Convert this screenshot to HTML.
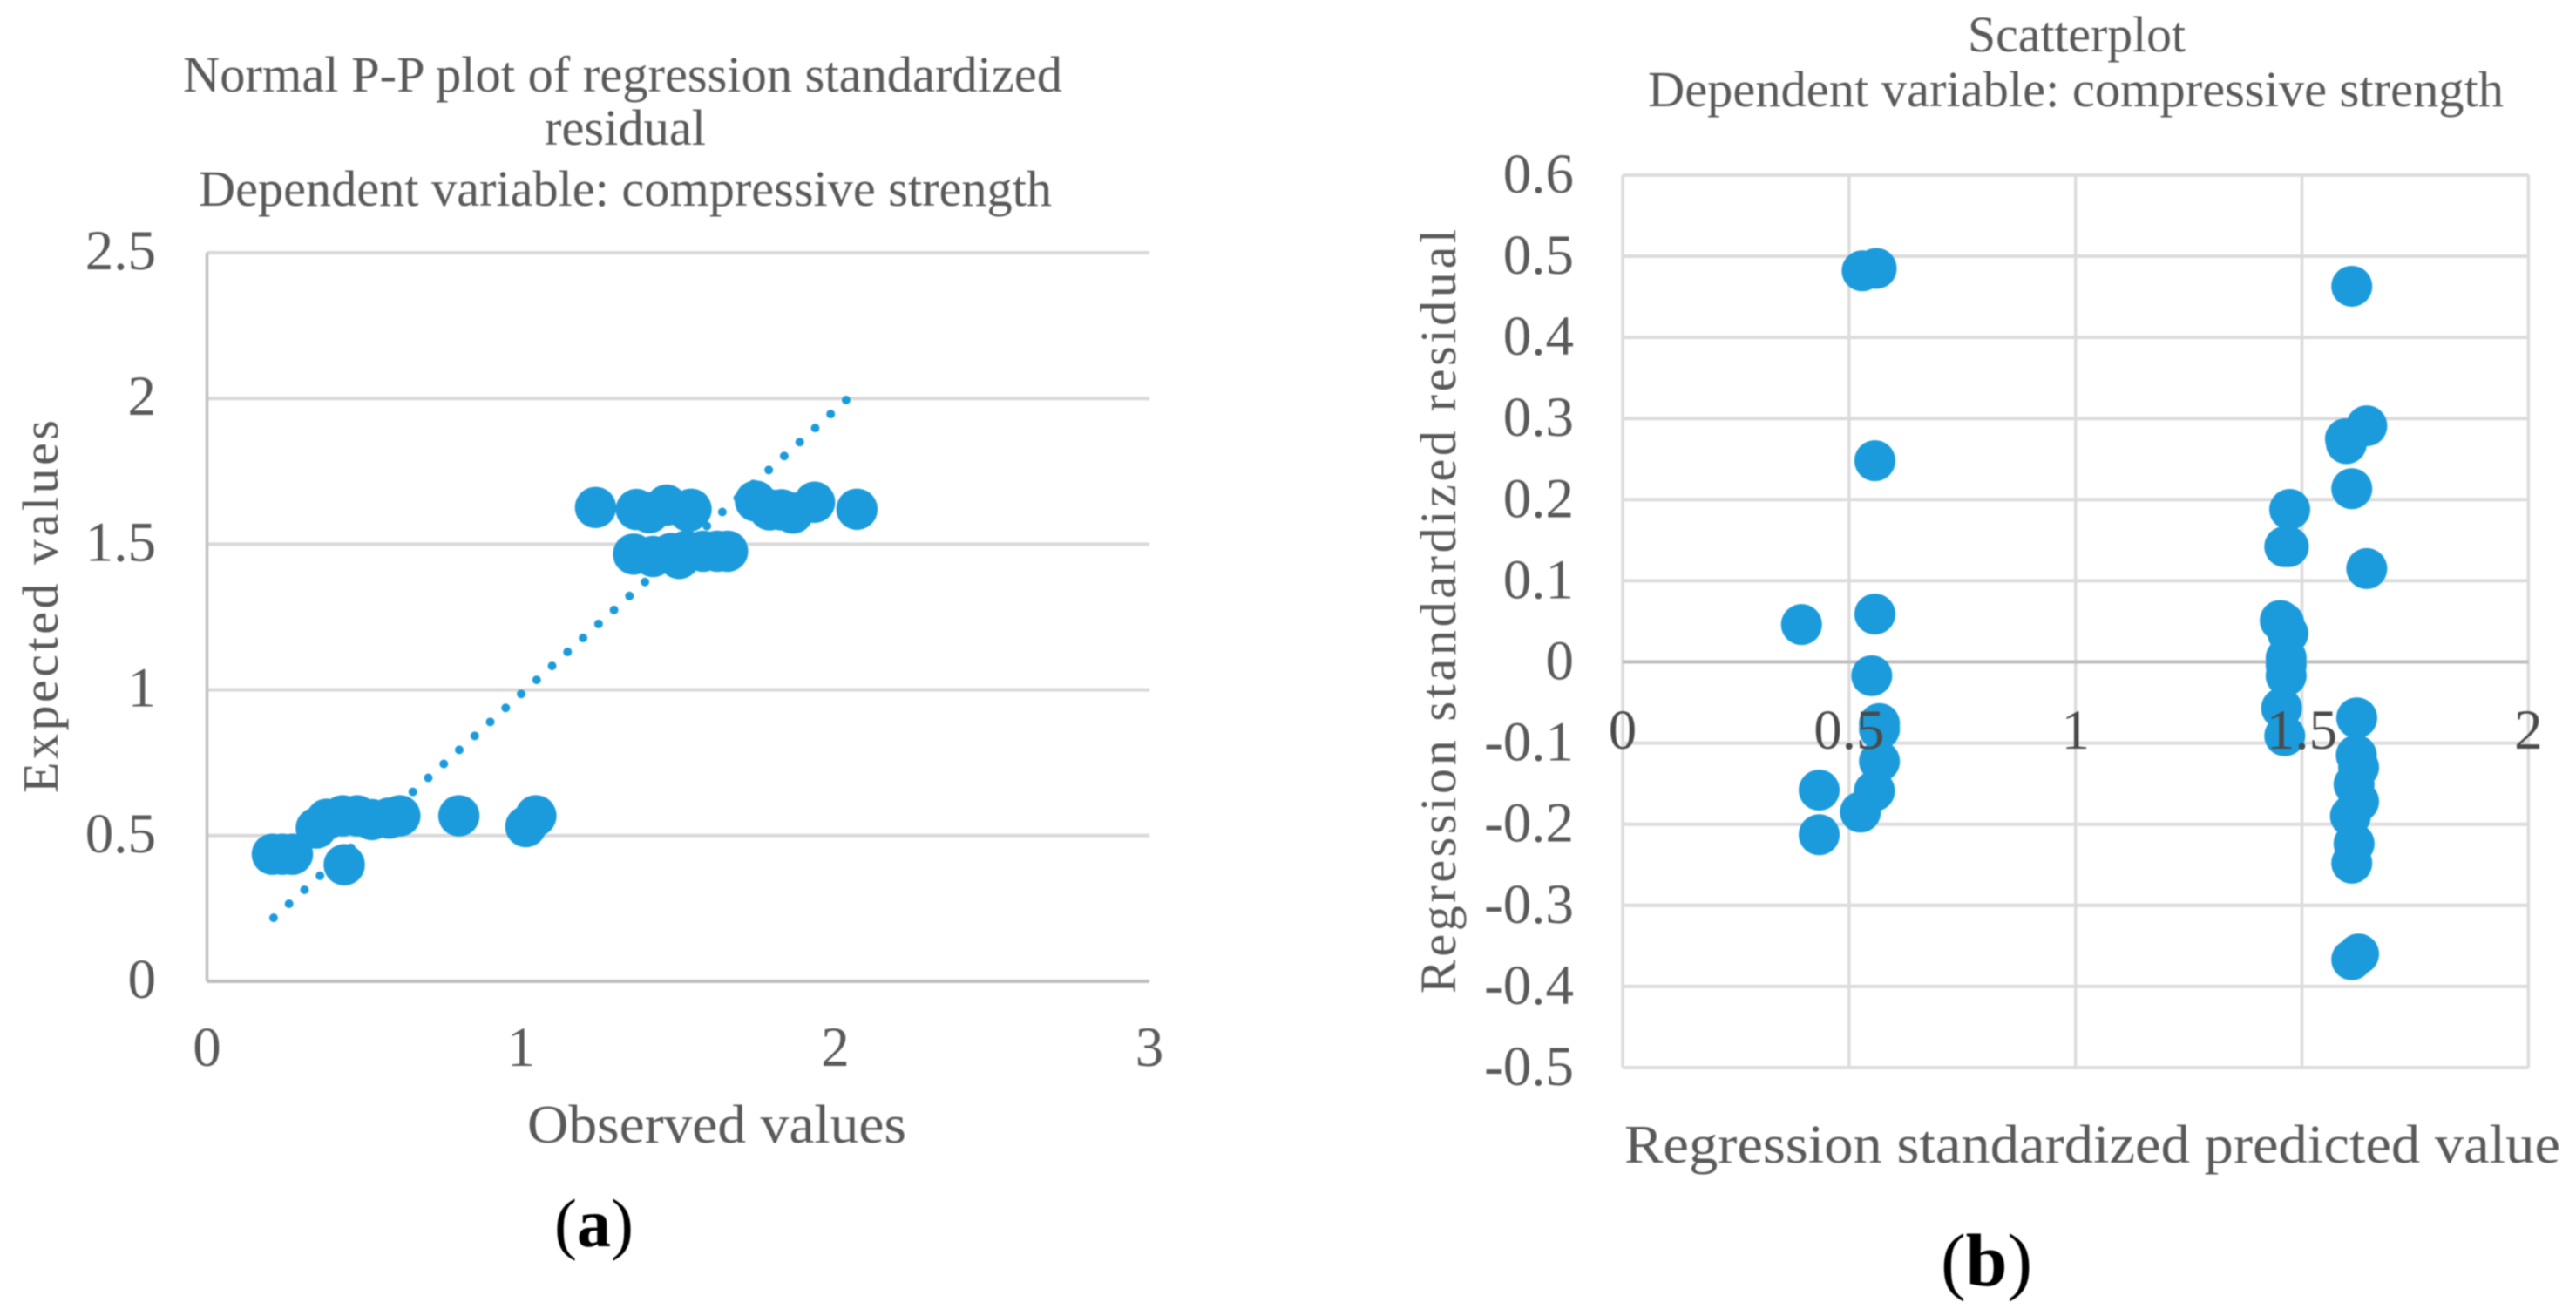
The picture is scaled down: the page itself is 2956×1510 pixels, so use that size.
<!DOCTYPE html>
<html lang="en">
<head>
<meta charset="utf-8">
<title>Normal P-P plot and scatterplot of regression residuals</title>
<style>
html,body{margin:0;padding:0;background:#fff;}
svg{display:block;filter:blur(0.9px);}
text{font-family:"Liberation Serif","Times New Roman",serif;fill:#595959;}
.title{font-size:58px;}
.axis-title{font-size:62px;}
.axis-title-rot{font-size:58px;}
.tick{font-size:65px;}
.tick-dark{font-size:65px;fill:#4a4a4a;}
.panel{font-size:78px;fill:#000;}
</style>
</head>
<body>
<svg id="figure" xmlns="http://www.w3.org/2000/svg" width="2956" height="1510" viewBox="0 0 2956 1510">
  <g id="panel-a">
    <g id="a-grid"></g>
    <g id="a-marks"></g>
    <g id="a-ticks"></g>
    <g>
      <text class="title" x="210" y="105" textLength="1009" lengthAdjust="spacingAndGlyphs">Normal P-P plot of regression standardized</text>
      <text class="title" x="625" y="166" textLength="185" lengthAdjust="spacingAndGlyphs">residual</text>
      <text class="title" x="228" y="236" textLength="979" lengthAdjust="spacingAndGlyphs">Dependent variable: compressive strength</text>
    </g>
    <text class="axis-title" x="605" y="1311" textLength="435" lengthAdjust="spacingAndGlyphs">Observed values</text>
    <text class="axis-title-rot" transform="translate(66,910) rotate(-90)" textLength="428" lengthAdjust="spacing">Expected values</text>
    <text class="panel" x="636" y="1430">(<tspan font-weight="bold" fill="#000">a</tspan>)</text>
  </g>
  <g id="panel-b">
    <g id="b-grid"></g>
    <g id="b-marks"></g>
    <g id="b-ticks"></g>
    <g>
      <text class="title" x="2258" y="59" textLength="250" lengthAdjust="spacingAndGlyphs">Scatterplot</text>
      <text class="title" x="1891" y="122" textLength="982" lengthAdjust="spacingAndGlyphs">Dependent variable: compressive strength</text>
    </g>
    <text class="axis-title" x="1864" y="1334" textLength="1074" lengthAdjust="spacingAndGlyphs">Regression standardized predicted value</text>
    <text class="axis-title-rot" transform="translate(1670,1140) rotate(-90)" textLength="877" lengthAdjust="spacing">Regression standardized residual</text>
    <text class="panel" style="font-size:86px" x="2227" y="1475">(<tspan font-weight="bold" fill="#000">b</tspan>)</text>
  </g>
</svg>
<script>
// Panel (a) data
const ppXTicks = [0, 1, 2, 3];
const ppYTicks = [0, 0.5, 1, 1.5, 2, 2.5];
const ppObserved = [1.237,1.367,1.408,1.463,1.541,1.533,1.358,1.42,1.477,1.503,1.525,1.579,1.624,1.657,1.746,1.791,1.829,1.865,1.934,2.069,0.208,0.24,0.272,0.437,0.348,0.381,0.432,0.478,0.525,0.58,0.614,0.802,1.015,1.047];
const ppExpected = [1.626,1.619,1.608,1.634,1.62,1.613,1.466,1.458,1.468,1.451,1.476,1.476,1.476,1.476,1.648,1.618,1.618,1.607,1.644,1.62,0.436,0.436,0.436,0.40,0.526,0.556,0.568,0.568,0.555,0.56,0.568,0.568,0.531,0.568];
const ppTrendX = [0.212, 2.035];
const ppTrendY = [0.218, 1.995];

// Panel (b) data
const scXTicks = [0, 0.5, 1, 1.5, 2];
const scYTicks = [0.6, 0.5, 0.4, 0.3, 0.2, 0.1, 0, -0.1, -0.2, -0.3, -0.4, -0.5];
const scPredicted = [0.529,0.56,1.61,1.643,1.596,1.598,0.557,1.61,1.473,1.462,1.47,1.643,0.395,0.557,1.452,1.46,1.469,1.465,1.465,1.465,1.455,1.462,0.55,1.621,0.567,0.567,0.567,0.556,0.525,0.434,0.434,1.62,1.625,1.615,1.625,1.607,1.615,1.61,1.625,1.61];
const scResidual = [0.482,0.485,0.463,0.291,0.275,0.269,0.248,0.2135,0.188,0.142,0.142,0.115,0.046,0.059,0.051,0.048,0.035,0.005,-0.004,-0.017,-0.057,-0.091,-0.017,-0.069,-0.076,-0.083,-0.1226,-0.159,-0.185,-0.158,-0.213,-0.115,-0.13,-0.151,-0.172,-0.19,-0.224,-0.248,-0.36,-0.367];

const NS = 'http://www.w3.org/2000/svg';
const BLUE = '#1b9bdb';

// Axis functions
function ppX(v){ return 237.5 + 360.5 * v; }
function ppY(v){ return 1126 - 334.4 * v; }
function scX(v){ return 1862 + 519.7 * v; }
function scY(v){ return 759.5 - 931 * v; }

function make(tag, attrs){
  const el = document.createElementNS(NS, tag);
  for (const k in attrs) el.setAttribute(k, attrs[k]);
  return el;
}

const aGrid = document.getElementById('a-grid');
const aMarks = document.getElementById('a-marks');
const aTicks = document.getElementById('a-ticks');
const bGrid = document.getElementById('b-grid');
const bMarks = document.getElementById('b-marks');
const bTicks = document.getElementById('b-ticks');

// Panel (a) gridlines and axes
ppYTicks.forEach(function(t){
  const line = make('line', {x1: ppX(0), x2: ppX(3), y1: ppY(t), y2: ppY(t), stroke: t === 0 ? '#bfbfbf' : '#d9d9d9', 'stroke-width': 4});
  
  
  aGrid.appendChild(line);
});
const ppYAxis = make('line', {x1: ppX(0), x2: ppX(0), y1: ppY(2.5), y2: ppY(0), stroke: '#bfbfbf', 'stroke-width': 3.5});


aGrid.appendChild(ppYAxis);

// Panel (a) trendline
const trend = make('line', {x1: ppX(ppTrendX[0]), y1: ppY(ppTrendY[0]), x2: ppX(ppTrendX[1]), y2: ppY(ppTrendY[1]), stroke: BLUE, 'stroke-width': 10, 'stroke-linecap': 'round', 'stroke-dasharray': '0 23.94'});


aMarks.appendChild(trend);

// Panel (a) points
ppObserved.forEach(function(x, i){
  const c = make('circle', {cx: ppX(x), cy: ppY(ppExpected[i]), r: 23.7, fill: BLUE});
  
  
  aMarks.appendChild(c);
});

// Panel (a) tick labels
ppXTicks.forEach(function(t){
  const el = make('text', {class: 'tick', x: ppX(t), y: 1223, 'text-anchor': 'middle'});
  el.textContent = String(t);
  
  
  aTicks.appendChild(el);
});
ppYTicks.forEach(function(t){
  const el = make('text', {class: 'tick', x: 179, y: ppY(t) + 19, 'text-anchor': 'end'});
  el.textContent = String(t);
  
  
  aTicks.appendChild(el);
});

// Panel (b) gridlines
scXTicks.forEach(function(t){
  const line = make('line', {x1: scX(t), x2: scX(t), y1: scY(0.6), y2: scY(-0.5), stroke: '#dcdcdc', 'stroke-width': 3.5});
  
  
  bGrid.appendChild(line);
});
scYTicks.forEach(function(t){
  const line = make('line', {x1: scX(0), x2: scX(2), y1: scY(t), y2: scY(t), stroke: t === 0 ? '#bfbfbf' : '#dcdcdc', 'stroke-width': 4});
  
  
  bGrid.appendChild(line);
});

// Panel (b) points
scPredicted.forEach(function(x, i){
  const c = make('circle', {cx: scX(x), cy: scY(scResidual[i]), r: 23.5, fill: BLUE});
  
  
  bMarks.appendChild(c);
});

// Panel (b) tick labels
scXTicks.forEach(function(t){
  const el = make('text', {class: 'tick-dark', x: scX(t), y: 859, 'text-anchor': 'middle'});
  el.textContent = String(t);
  
  
  bTicks.appendChild(el);
});
scYTicks.forEach(function(t){
  const el = make('text', {class: 'tick', x: 1806, y: scY(t) + 20, 'text-anchor': 'end'});
  el.textContent = String(t);
  
  
  bTicks.appendChild(el);
});
</script>
</body>
</html>
